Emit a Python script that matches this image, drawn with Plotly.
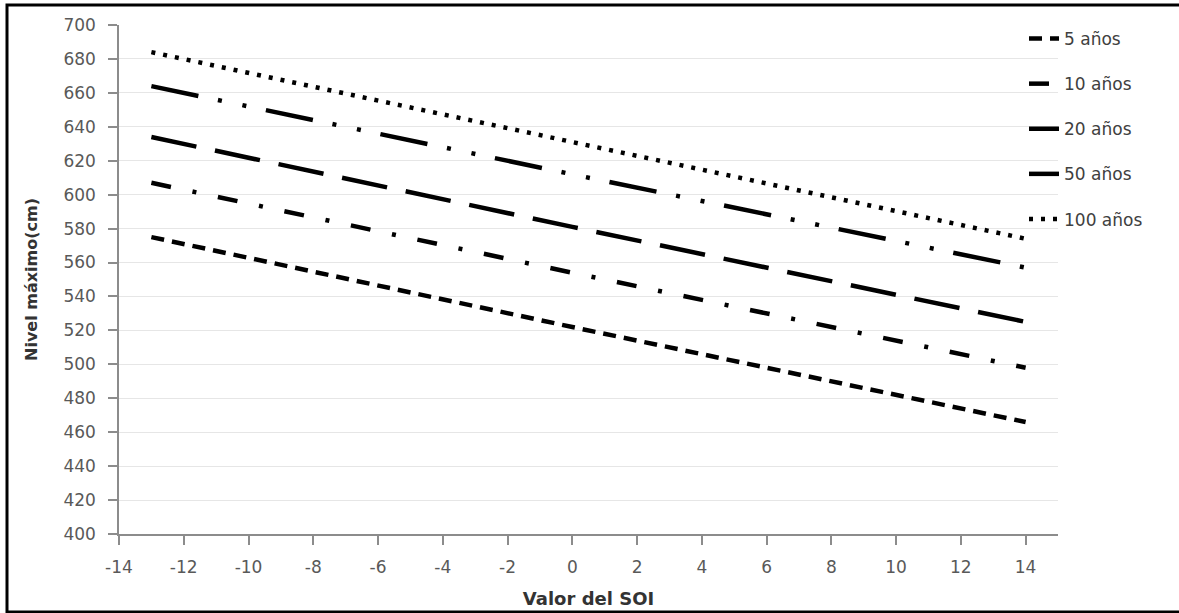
import plotly.graph_objects as go

# Data
soi = [-13, 0, 14]
series_names = ["5 años", "10 años", "20 años", "50 años", "100 años"]
nivel_5 = [575, 522, 466]
nivel_10 = [607, 554, 498]
nivel_20 = [634, 581, 525]
nivel_50 = [664, 612, 557]
nivel_100 = [684, 631, 574]

x_ticks = list(range(-14, 15, 2))
y_ticks = list(range(400, 701, 20))

series_values = [nivel_5, nivel_10, nivel_20, nivel_50, nivel_100]
dashes = [
    "13px,8px",
    "20px,22px,4px,22px",
    "46px,19px",
    "48px,20px,4px,21px,4px,20px",
    "4px,8px",
]

fig = go.Figure()
for i, (name, vals, d) in enumerate(zip(series_names, series_values, dashes)):
    fig.add_trace(go.Scatter(
        x=soi, y=vals, mode="lines", name=name, legendgroup=f"g{i}",
        line=dict(color="black", width=4.5, dash=d),
    ))

# layout geometry (pixels)
W, H = 1179, 613
L, R, T, B = 119, 121, 25, 79
pw = W - L - R
ph = H - T - B

def px_x(p):
    return (p - L) / pw

def px_y(p):
    return (H - B - p) / ph

tick_font = dict(family="DejaVu Sans", size=17, color="#595959")

fig.update_layout(
    width=W, height=H,
    margin=dict(l=L, r=R, t=T, b=B, pad=0, autoexpand=False),
    paper_bgcolor="white", plot_bgcolor="white",
    font=dict(family="DejaVu Sans", color="#404040"),
    xaxis=dict(
        range=[-14, 15], tickvals=x_ticks, ticktext=[str(v) for v in x_ticks],
        showgrid=False, zeroline=False, automargin=False,
        showline=True, linecolor="#8c8c8c", linewidth=1.5,
        ticks="outside", ticklen=9, tickcolor="#8c8c8c", tickwidth=1.5,
        tickfont=tick_font, ticklabelstandoff=8,
        title=dict(text="<b>Valor del SOI</b>", font=dict(family="DejaVu Sans", size=18, color="#333333"), standoff=16),
    ),
    yaxis=dict(
        range=[400, 700], tickvals=y_ticks,
        showgrid=True, gridcolor="#e6e6e6", gridwidth=1, zeroline=False, automargin=False,
        showline=True, linecolor="#8c8c8c", linewidth=1.5,
        ticks="outside", ticklen=9, tickcolor="#8c8c8c", tickwidth=1.5,
        tickfont=tick_font, ticklabelstandoff=9,
        title=dict(text="<b>Nivel máximo(cm)</b>", font=dict(family="DejaVu Sans", size=16, color="#333333"), standoff=22),
    ),
    legend=dict(
        x=px_x(1024), y=px_y(21), xanchor="left", yanchor="top",
        bgcolor="rgba(255,255,255,0)", borderwidth=0,
        font=dict(family="DejaVu Sans", size=17, color="#404040"),
        tracegroupgap=20, traceorder="grouped",
    ),
    showlegend=True,
)

fig.add_shape(
    type="rect", xref="paper", yref="paper",
    x0=px_x(7), x1=px_x(1190), y0=px_y(612), y1=px_y(5),
    line=dict(color="black", width=3), fillcolor="rgba(0,0,0,0)", layer="above",
)

fig.write_html("out.html", config={"displayModeBar": False},
               post_script="document.body.style.margin='0px';")
